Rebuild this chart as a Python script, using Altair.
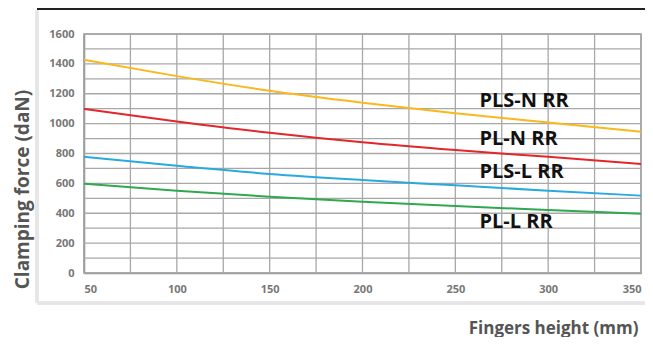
import altair as alt
import pandas as pd

heights = [50, 100, 150, 200, 250, 300, 350]
pls_n = [1428, 1318, 1220, 1140, 1069, 1007, 946]
pl_n = [1098, 1015, 939, 875, 823, 778, 730]
pls_l = [778, 718, 663, 622, 587, 551, 518]
pl_l = [598, 551, 511, 477, 448, 422, 397]

series_names = ["PLS-N RR", "PL-N RR", "PLS-L RR", "PL-L RR"]
series_colors = ["#f9b81b", "#e3262a", "#2aa9e0", "#2fa84f"]
label_x = [263, 263, 263, 263]
label_y = [1151, 897, 676, 341]
x_ticks = [50, 100, 150, 200, 250, 300, 350]
y_ticks = [0, 200, 400, 600, 800, 1000, 1200, 1400, 1600]
x_grid = list(range(50, 351, 25))
y_grid = list(range(0, 1601, 100))

rows = []
for name, vals in zip(series_names, [pls_n, pl_n, pls_l, pl_l]):
    for h, v in zip(heights, vals):
        rows.append({"series": name, "h": h, "f": v})
df = pd.DataFrame(rows)
lab = pd.DataFrame({"series": series_names, "h": label_x, "f": label_y})

FONT = "Open Sans"
xs = alt.Scale(domain=[50, 350], nice=False, zero=False)
ys = alt.Scale(domain=[0, 1600], nice=False)

xaxis = alt.Axis(
    values=x_ticks, format="d", labelOverlap=False,
    title="Fingers height (mm)", titleAnchor="end", titleAlign="right",
    titleBaseline="alphabetic", titleX=554, titleY=60,
    titleFont=FONT, titleFontSize=17, titleFontWeight="bold", titleColor="#555555",
    labelFont=FONT, labelFontSize=11, labelFontWeight="bold", labelColor="#777777",
    labelPadding=10, ticks=False, domainColor="#888888", domainWidth=1.5,
    grid=False)
yaxis = alt.Axis(
    values=y_ticks, format="d", labelOverlap=False,
    title="Clamping force (daN)", titleAngle=-90, titleAlign="center",
    titleBaseline="middle", titleX=-62, titleY=155,
    titleFont=FONT, titleFontSize=19, titleFontWeight="bold", titleColor="#555555",
    labelFont=FONT, labelFontSize=11, labelFontWeight="bold", labelColor="#777777",
    labelPadding=10, ticks=False, domainColor="#888888", domainWidth=1.5,
    grid=False)

lines = alt.Chart(df).mark_line(strokeWidth=2, interpolate="monotone").encode(
    x=alt.X("h:Q", scale=xs, axis=xaxis),
    y=alt.Y("f:Q", scale=ys, axis=yaxis),
    color=alt.Color("series:N", scale=alt.Scale(domain=series_names, range=series_colors), legend=None),
)

xg = pd.DataFrame({"h": x_grid})
yg = pd.DataFrame({"f": y_grid})
vgrid = alt.Chart(xg).mark_rule(color="#a8a8a8", strokeWidth=1.3).encode(
    x=alt.X("h:Q", scale=xs, axis=xaxis), y=alt.value(0), y2=alt.value(239))
hgrid = alt.Chart(yg).mark_rule(color="#a8a8a8", strokeWidth=1.3).encode(
    y=alt.Y("f:Q", scale=ys, axis=yaxis), x=alt.value(0), x2=alt.value(557))

labels = alt.Chart(lab).mark_text(align="left", baseline="middle", font=FONT,
                                  fontSize=20, fontWeight="bold", color="#111111").encode(
    x=alt.X("h:Q", scale=xs, axis=xaxis), y=alt.Y("f:Q", scale=ys, axis=yaxis), text="series:N")

frame_top = alt.Chart(lab).mark_rule(color="#222222", strokeWidth=2).encode(
    x=alt.value(-47), x2=alt.value(561), y=alt.value(-25))
frame_left = alt.Chart(lab).mark_rule(color="#e6e6e6", strokeWidth=3).encode(
    x=alt.value(-47), y=alt.value(-24), y2=alt.value(269))
frame_bottom = alt.Chart(lab).mark_rule(color="#e6e6e6", strokeWidth=3).encode(
    x=alt.value(-47), x2=alt.value(561), y=alt.value(269))

chart = alt.layer(vgrid, hgrid, lines, labels, frame_top, frame_left, frame_bottom).properties(
    width=557, height=239,
    autosize=alt.AutoSizeParams(type="none"),
    padding={"left": 76, "top": 26, "right": 4, "bottom": 64},
).configure_view(stroke="#999999", strokeWidth=1.5)

chart.save("out.html", embed_options={"renderer": "svg", "actions": False})
